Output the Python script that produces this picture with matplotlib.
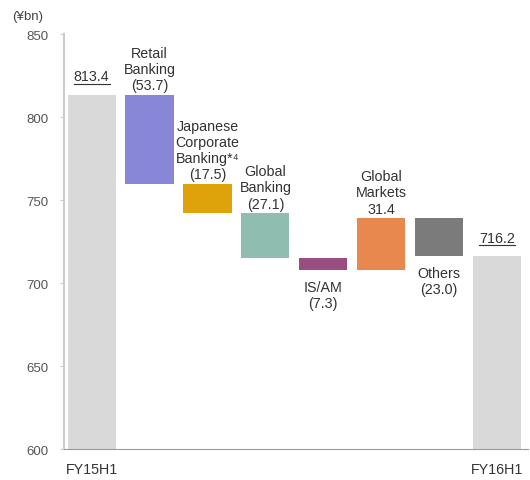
import matplotlib.pyplot as plt

plt.rcParams['font.family'] = ['Liberation Sans', 'DejaVu Sans']

# data
labels = ['FY15H1', 'Retail\nBanking\n(53.7)', 'Japanese\nCorporate\nBanking*⁴\n(17.5)',
          'Global\nBanking\n(27.1)', 'IS/AM\n(7.3)', 'Global\nMarkets\n31.4',
          'Others\n(23.0)', 'FY16H1']
start = 813.4
changes = [-53.7, -17.5, -27.1, -7.3, 31.4, -23.0]
end = 716.2
colors = ['#d9d9d9', '#8886d6', '#dea20a', '#8fbdaf', '#9a4d80', '#e8884e', '#7b7b7b', '#d9d9d9']
label_below = [False, False, False, False, True, False, True, False]

fig = plt.figure(figsize=(5.3, 4.81), dpi=100)
ax = fig.add_axes([0.121, 0.0644, 0.875, 0.8626])

# bars
w = 0.83
ax.bar(0, start, width=w, color=colors[0], bottom=0)
level = start
for i, c in enumerate(changes, start=1):
    lo = min(level, level + c)
    ax.bar(i, abs(c), bottom=lo, width=w, color=colors[i])
    top = max(level, level + c)
    if label_below[i]:
        ax.text(i, lo - 6, labels[i], ha='center', va='top', fontsize=10.3,
                color='#333333', linespacing=1.2)
    else:
        ax.text(i, top + 1.5, labels[i], ha='center', va='bottom', fontsize=10.3,
                color='#333333', linespacing=1.2)
    level += c
ax.bar(7, end, width=w, color=colors[7])

# totals, underlined
for x, v in [(0, start), (7, end)]:
    ax.text(x, v + 7, f'{v:.1f}', ha='center', va='bottom', fontsize=10.3, color='#333333')
    ax.plot([x - 0.31, x + 0.31], [v + 6.6, v + 6.6], color='#333333', lw=0.8)

ax.set_ylim(600, 850)
ax.set_xlim(-0.474, 7.53)
ax.set_yticks([600, 650, 700, 750, 800, 850])
ax.set_xticks([0, 7])
ax.set_xticklabels(['FY15H1', 'FY16H1'])
ax.tick_params(axis='y', labelsize=9.5, labelcolor='#555555', color='#cccccc', length=3, pad=8)
ax.tick_params(axis='x', labelsize=10.3, labelcolor='#333333', length=0, pad=9)
for s in ['top', 'right']:
    ax.spines[s].set_visible(False)
ax.spines['left'].set_color('#cccccc')
ax.spines['left'].set_linewidth(1.5)
ax.spines['bottom'].set_color('#999999')

fig.text(0.022, 0.965, '(¥bn)', fontsize=9.5, color='#444444', va='center')

plt.savefig('out.png', dpi=100)
